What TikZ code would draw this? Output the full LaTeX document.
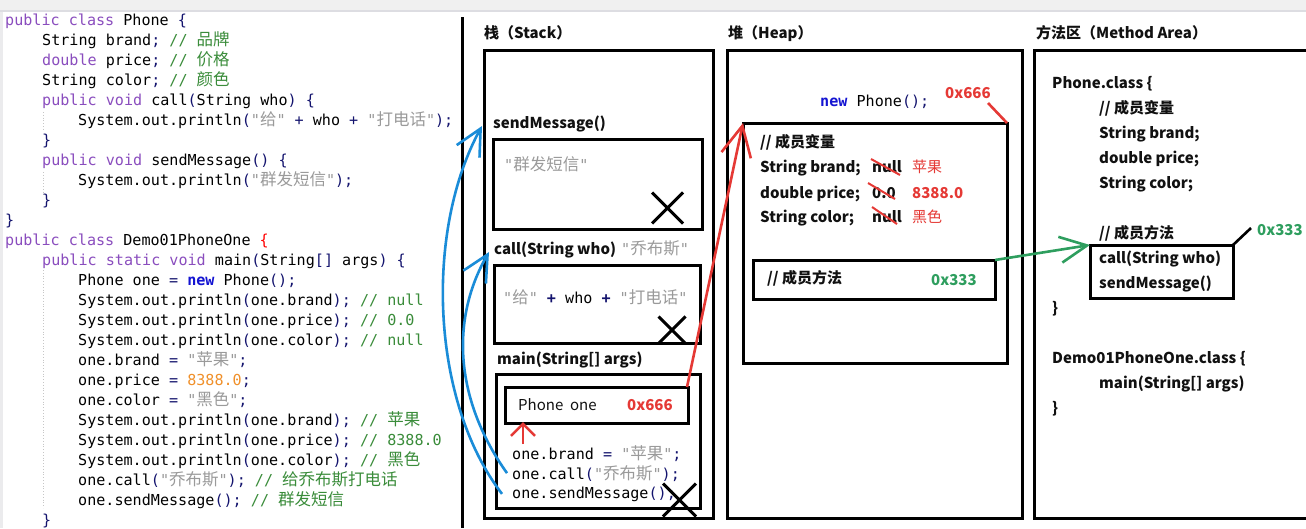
\documentclass[tikz,border=0pt]{standalone}
\usepackage{fontspec}
\usetikzlibrary{arrows.meta,shapes.misc}
\setmonofont{DejaVu Sans Mono}
\newfontfamily\cjk{Noto Sans CJK SC}
\definecolor{kwc}{HTML}{8A4DBE}
\definecolor{pnc}{HTML}{14146E}
\definecolor{cmc}{HTML}{3A8C3A}
\definecolor{stc}{HTML}{9A9A9A}
\definecolor{numc}{HTML}{F0902A}
\definecolor{newc}{HTML}{1414D2}
\definecolor{cred}{HTML}{E53935}
\definecolor{cgreen}{HTML}{2E9E5E}
\definecolor{cblue}{HTML}{1A8CD8}
\definecolor{labc}{HTML}{111111}
\newcommand\zh[1]{{\cjk\fontsize{16.5}{16.5}\selectfont #1}}
\newcommand\kw[1]{\textcolor{kwc}{#1}}
\newcommand\p[1]{\textcolor{pnc}{#1}}
\newcommand\cm[1]{\textcolor{cmc}{#1}}
\newcommand\st[1]{\textcolor{stc}{#1}}
\newcommand\codefont{\ttfamily\fontsize{15.1}{20}\selectfont}
\newcommand\labfont{\cjk\bfseries\fontsize{15}{18}\selectfont}
\newcommand\regfont{\cjk\fontsize{15}{18}\selectfont}
\tikzset{
  code/.style={anchor=base west, inner sep=0pt, font=\codefont, text=black},
  lab/.style={anchor=base west, inner sep=0pt, font=\labfont, text=labc},
  box/.style={draw, line width=3pt, inner sep=0pt, outer sep=0pt, anchor=north west},
  xmark/.style={draw, cross out, line width=3pt, inner sep=0pt, outer sep=0pt, minimum width=#1, minimum height=#1},
  blueconn/.style={draw=cblue, line width=2.6pt, -{Straight Barb[length=26pt,width=26pt]}},
  redconn/.style={draw=cred, line width=2.6pt, -{Straight Barb[length=30pt,width=30pt]}},
  redsmall/.style={draw=cred, line width=2.6pt, -{Straight Barb[length=12pt,width=24pt]}},
  greenconn/.style={draw=cgreen, line width=2.6pt, -{Straight Barb[length=27pt,width=26pt]}},
  strike/.style={draw=cred, line width=2pt},
}
\begin{document}
\begin{tikzpicture}[x=1pt,y=-1pt]
\useasboundingbox (0,0) rectangle (1306,528);
\fill[white] (0,0) rectangle (1306,528);
\fill[gray!12] (0,0) rectangle (1306,10);
\fill[blue!8!gray!25] (0,10) rectangle (1306,12);
\fill[blue!5!gray!15] (0,12) rectangle (3,528);
% indent guides
\draw[gray!45, dotted, line width=0.8pt] (43,112) -- (43,130);
\draw[gray!45, dotted, line width=0.8pt] (43,172) -- (43,195);
\draw[gray!45, dotted, line width=0.8pt] (43,270) -- (43,508);
% code
\node[code] (c1) at (5,25) {\kw{public class} Phone \p{\{}};
\node[code] (c2) at (42,45) {String brand\p{;} \cm{// \zh{品牌}}};
\node[code] (c3) at (42,65) {\kw{double} price\p{;} \cm{// \zh{价格}}};
\node[code] (c4) at (42,85) {String color\p{;} \cm{// \zh{颜色}}};
\node[code] (c5) at (42,105) {\kw{public void} call\p{(}String who\p{)} \p{\{}};
\node[code] (c6) at (78,125) {System.out.println\p{(}\st{"\zh{给}"} \p{+} who \p{+} \st{"\zh{打电话}"}\p{);}};
\node[code] (c7) at (42,145) {\p{\}}};
\node[code] (c8) at (42,165) {\kw{public void} sendMessage\p{()} \p{\{}};
\node[code] (c9) at (78,185) {System.out.println\p{(}\st{"\zh{群发短信}"}\p{);}};
\node[code] (c10) at (42,205) {\p{\}}};
\node[code] (c11) at (5,225) {\p{\}}};
\node[code] (c12) at (5,245) {\kw{public class} Demo01PhoneOne \textcolor{red}{\{}};
\node[code] (c13) at (42,265) {\kw{public static void} main\p{(}String\p{[]} args\p{)} \p{\{}};
\node[code] (c14) at (78,285) {Phone one \p{=} \textcolor{newc}{\bfseries new} Phone\p{();}};
\node[code] (c15) at (78,305) {System.out.println\p{(}one.brand\p{);} \cm{// null}};
\node[code] (c16) at (78,325) {System.out.println\p{(}one.price\p{);} \cm{// 0.0}};
\node[code] (c17) at (78,345) {System.out.println\p{(}one.color\p{);} \cm{// null}};
\node[code] (c18) at (78,365) {one.brand \p{=} \st{"\zh{苹果}"}\p{;}};
\node[code] (c19) at (78,385) {one.price \p{=} \textcolor{numc}{8388.0}\p{;}};
\node[code] (c20) at (78,405) {one.color \p{=} \st{"\zh{黑色}"}\p{;}};
\node[code] (c21) at (78,425) {System.out.println\p{(}one.brand\p{);} \cm{// \zh{苹果}}};
\node[code] (c22) at (78,445) {System.out.println\p{(}one.price\p{);} \cm{// 8388.0}};
\node[code] (c23) at (78,465) {System.out.println\p{(}one.color\p{);} \cm{// \zh{黑色}}};
\node[code] (c24) at (78,485) {one.call\p{(}\st{"\zh{乔布斯}"}\p{);} \cm{// \zh{给乔布斯打电话}}};
\node[code] (c25) at (78,505) {one.sendMessage\p{();} \cm{// \zh{群发短信}}};
\node[code] (c26) at (42,525) {\p{\}}};
% divider
\draw[line width=3pt] (462,17) -- (462,528);
% ===== Stack =====
\node[lab] (tstack) at (484,38) {栈（Stack）};
\node[box, minimum width=229pt, minimum height=468pt] (stack) at (484,50) {};
\node[lab] (lsm) at (493,128) {sendMessage()};
\node[box, minimum width=209pt, minimum height=90pt] (smbox) at (493,139) {};
\node[code, text=stc] (tsm) at (504,170) {"\zh{群发短信}"};
\node[xmark=31pt] (x1) at (667.5,208) {};
\node[lab] (lcall) at (494,254) {call(String who)};
\node[code, text=stc] (tjobs) at (621,254) {"\zh{乔布斯}"};
\node[box, minimum width=206pt, minimum height=78pt] (callbox) at (494,265) {};
\node[code] (tcall) at (503,303) {\st{"\zh{给}"} \p{\bfseries +} who \p{\bfseries +} \st{"\zh{打电话}"}};
\node[xmark=27pt] (x2) at (672,330) {};
\node[lab] (lmain) at (497,364) {main(String[] args)};
\node[box, minimum width=204pt, minimum height=134pt] (mainbox) at (496,374) {};
\node[box, minimum width=183pt, minimum height=36pt] (phoneone) at (505,387) {};
\node[anchor=base west, inner sep=0pt, font=\regfont, text=labc] (tphone) at (518,410) {Phone\ \ one};
\node[lab, text=cred] (taddr1) at (627,410) {0x666};
\node[code] (m1) at (512,459) {one.brand \p{=} \st{"\zh{苹果}"}\p{;}};
\node[code] (m2) at (512,479) {one.call\p{(}\st{"\zh{乔布斯}"}\p{);}};
\node[code] (m3) at (512,498) {one.sendMessage\p{();}};
\node[xmark=33pt] (x3) at (679.5,500) {};
\coordinate (rsrc) at (523,444);
\draw[redsmall] (rsrc) -- ([yshift=1pt]rsrc |- phoneone.south);
% ===== Heap =====
\node[lab] (theap) at (728,38) {堆（Heap）};
\node[box, minimum width=295pt, minimum height=468pt] (heap) at (727,50) {};
\node[code] (tnew) at (820,106) {\textcolor{newc}{\bfseries new} Phone\p{();}};
\node[lab, text=cred] (taddr2) at (945,98) {0x666};
\node[box, minimum width=264pt, minimum height=240pt] (obj) at (743,123) {};
\coordinate (slash1) at (988,103);
\draw[draw=cred, line width=2.6pt] (slash1) -- (obj.north east);
\node[lab] (hv) at (760,147) {// 成员变量};
\node[lab] (hb) at (760,172) {String brand;};
\node[lab] (hp) at (760,198) {double price;};
\node[lab] (hc) at (760,222) {String color;};
\node[lab] (hb0) at (872,172) {null};
\node[lab] (hp0) at (872,198) {0.0};
\node[lab] (hc0) at (872,222) {null};
\draw[strike] (871,159) -- (900,175);
\draw[strike] (868,183) -- (895,199);
\draw[strike] (872,207) -- (897,224);
\node[anchor=base west, inner sep=0pt, font=\regfont, text=cred] (hb1) at (912,172) {苹果};
\node[lab, text=cred] (hp1) at (912,198) {8388.0};
\node[anchor=base west, inner sep=0pt, font=\regfont, text=cred] (hc1) at (912,222) {黑色};
\node[box, minimum width=242pt, minimum height=39pt] (mref) at (753,260) {};
\node[lab] (hm) at (767,283) {// 成员方法};
\node[lab, text=cgreen] (taddr3) at (931,285) {0x333};
% ===== Method Area =====
\node[lab] (tmeth) at (1036,38) {方法区（Method Area）};
\draw[line width=3pt] (1310,50) -- (1034,50) -- (1034,518) -- (1310,518);
\node[lab] (a1) at (1052,88) {Phone.class \{};
\node[lab] (a2) at (1099,113) {// 成员变量};
\node[lab] (a3) at (1099,138) {String brand;};
\node[lab] (a4) at (1099,163) {double price;};
\node[lab] (a5) at (1099,188) {String color;};
\node[lab] (a6) at (1099,238) {// 成员方法};
\node[box, minimum width=143pt, minimum height=53pt] (mbox) at (1090,245) {};
\node[lab] (a7) at (1099,263) {call(String who)};
\node[lab] (a8) at (1099,288) {sendMessage()};
\node[lab] (a9) at (1052,313) {\}};
\node[lab] (a10) at (1052,363) {Demo01PhoneOne.class \{};
\node[lab] (a11) at (1099,388) {main(String[] args)};
\node[lab] (a12) at (1052,413) {\}};
\coordinate (slash2) at (1251,228);
\draw[line width=2.6pt] (mbox.north east) -- (slash2);
\node[lab, text=cgreen] (taddr4) at (1257,235) {0x333};
% ===== connectors =====
\coordinate (smtip) at (482,126);
\coordinate (calltip) at (489,252);
\draw[blueconn] ([xshift=-10pt]m3.west) .. controls (430,400) and (425,230) .. (smtip);
\draw[blueconn] ([xshift=-5pt]m2.west) .. controls (455,400) and (450,320) .. (calltip);
\draw[redconn] ([xshift=-1pt]phoneone.north east) -- (obj.north west);
\draw[greenconn] (mref.north east) -- (mbox.north west);
\end{tikzpicture}
\end{document}
